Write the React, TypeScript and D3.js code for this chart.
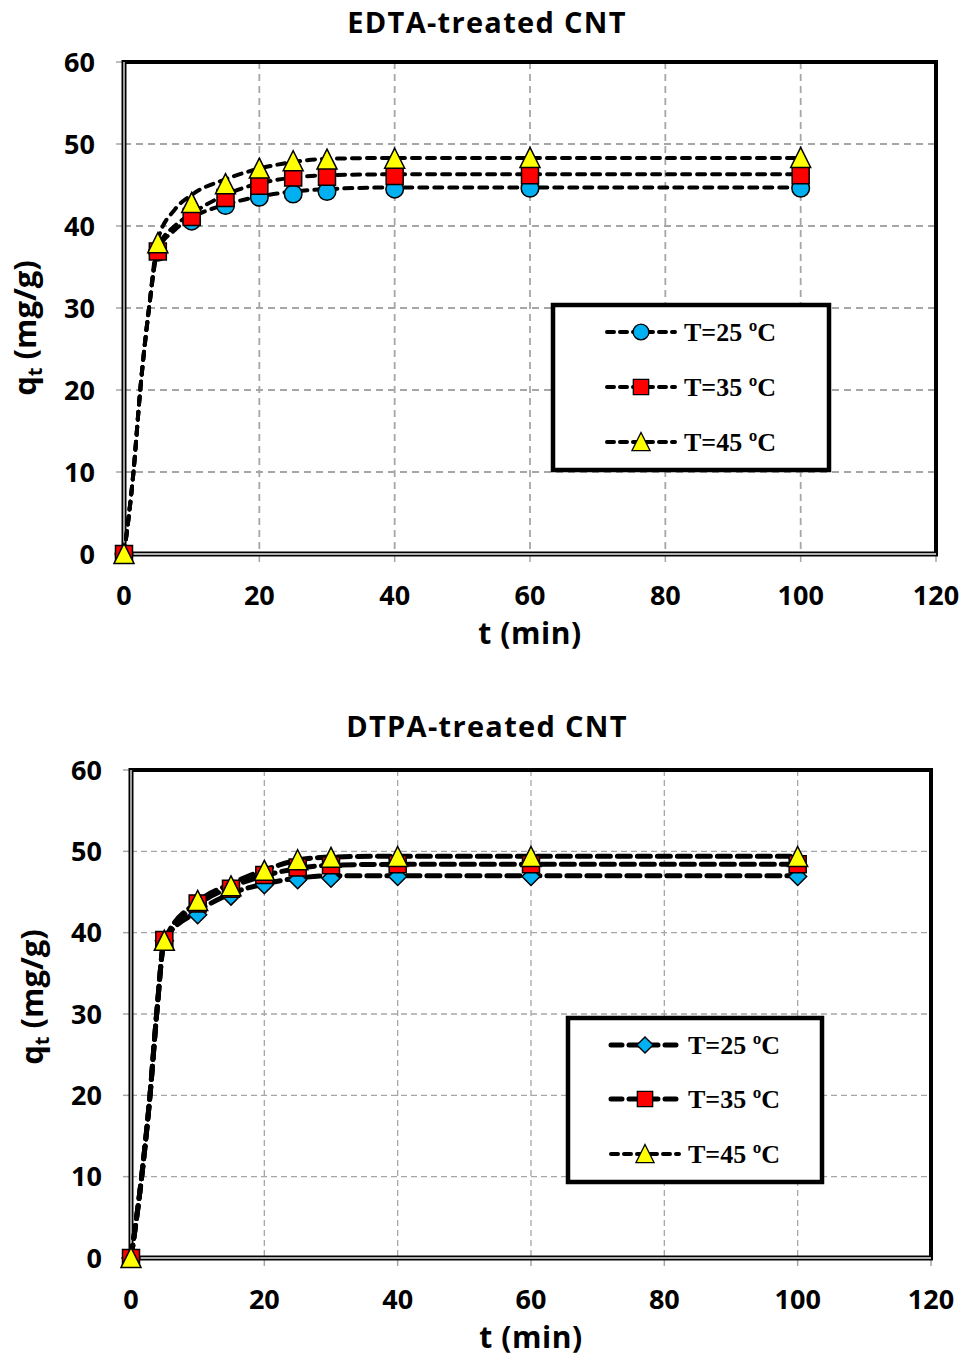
import React from "react";
import * as d3 from "d3";

// axes
const timeTicks = [0, 20, 40, 60, 80, 100, 120];
const qTicks = [0, 10, 20, 30, 40, 50, 60];
const gridTimes = [20, 40, 60, 80, 100];
const gridQ = [10, 20, 30, 40, 50];
const legendLabels = ["T=25 ºC", "T=35 ºC", "T=45 ºC"];

// measured points (t in min, q in mg/g)
const sampleTimes = [0, 5, 10, 15, 20, 25, 30, 40, 60, 100];
const edtaQ25 = [0, 36.8, 40.6, 42.5, 43.5, 43.9, 44.2, 44.5, 44.6, 44.6];
const edtaQ35 = [0, 36.9, 41.1, 43.4, 44.9, 45.9, 46.0, 46.1, 46.2, 46.2];
const edtaQ45 = [0, 37.9, 42.8, 45.1, 47.0, 47.9, 48.1, 48.2, 48.3, 48.3];
const dtpaQ25 = [0, 39.0, 42.2, 44.5, 45.9, 46.5, 46.7, 46.9, 46.9, 46.9];
const dtpaQ35 = [0, 39.1, 43.6, 45.4, 47.1, 48.0, 48.3, 48.4, 48.4, 48.4];
const dtpaQ45 = [0, 39.0, 43.9, 45.7, 47.6, 48.9, 49.2, 49.3, 49.3, 49.3];

// fitted (dashed) curves
const edtaFitTimes = [0, 1.4, 2.4, 3.7, 5, 7.5, 10, 15, 20, 25, 30, 40, 60, 100];
const edtaFit25 = [0, 10, 20, 30, 37.0, 39.5, 41.0, 42.6, 43.6, 44.2, 44.5, 44.7, 44.7, 44.7];
const edtaFit35 = [0, 10, 20, 30, 37.3, 40.0, 41.5, 43.8, 45.2, 45.9, 46.2, 46.3, 46.3, 46.3];
const edtaFit45 = [0, 10, 20, 30, 38.3, 42.0, 43.8, 45.7, 47.0, 47.8, 48.2, 48.3, 48.3, 48.3];
const dtpaFitTimes = [0, 1.6, 2.85, 3.85, 5, 10, 15, 20, 25, 30, 40, 60, 100];
const dtpaFit25 = [0, 10, 20, 30, 39.0, 42.6, 44.8, 46.0, 46.7, 47.0, 47.0, 47.0, 47.0];
const dtpaFit35 = [0, 10, 20, 30, 39.0, 43.4, 45.6, 47.0, 47.9, 48.3, 48.4, 48.4, 48.4];
const dtpaFit45 = [0, 10, 20, 30, 39.0, 43.8, 46.0, 47.7, 48.9, 49.3, 49.4, 49.4, 49.4];

const BLUE = "#00b0f0";
const RED = "#ff0000";
const YELLOW = "#ffff00";
const SANS = "'Open Sans', 'Liberation Sans', sans-serif";
const SERIF = "'Liberation Serif', 'Times New Roman', serif";

type Shape = "circle" | "square" | "triangle" | "diamond";

const markerPath = (shape: Shape) => {
  if (shape === "circle") return d3.symbol(d3.symbolCircle, Math.PI * 8.8 * 8.8)()!;
  if (shape === "square") return "M-8.5,-8.5H8.5V8.5H-8.5Z";
  if (shape === "triangle") return "M0,-10.5L10,9.5L-10,9.5Z";
  return "M0,-9L9,0L0,9L-9,0Z";
};

interface Series {
  q: number[];
  fit: number[];
  shape: Shape;
  fill: string;
}

interface PanelProps {
  title: string;
  left: number;
  right: number;
  top: number;
  bottom: number;
  titleY: number;
  fitTimes: number[];
  series: Series[];
  dash: string;
  lineWidth: number;
  gridDash: string;
  gridWidth: number;
  legend: { x0: number; y0: number; x1: number; y1: number; rows: number[]; mx: number; tx: number };
  legendDash: string[];
  legendWidth: number[];
  ylabX: number;
  ylabY: number;
}

const Panel = (p: PanelProps) => {
  const x = d3.scaleLinear().domain([0, 120]).range([p.left, p.right]);
  const y = d3.scaleLinear().domain([0, 60]).range([p.bottom, p.top]);
  const line = d3
    .line<number>()
    .x((_, i) => x(p.fitTimes[i]))
    .y((d) => y(d))
    .curve(d3.curveMonotoneX);

  const lg = p.legend;
  return (
    <g>
      <text x={487} y={p.titleY} textAnchor="middle" fontFamily={SANS} fontWeight={700} fontSize={29} letterSpacing={1.3}>
        {p.title}
      </text>

      {gridTimes.map((t) => (
        <line key={"gx" + t} x1={x(t)} x2={x(t)} y1={p.top} y2={p.bottom} stroke="#a6a6a6" strokeWidth={p.gridWidth} strokeDasharray={p.gridDash} />
      ))}
      {gridQ.map((q) => (
        <line key={"gy" + q} x1={p.left} x2={p.right} y1={y(q)} y2={y(q)} stroke="#a6a6a6" strokeWidth={p.gridWidth} strokeDasharray={p.gridDash} />
      ))}

      {/* ticks */}
      {qTicks.map((q) => (
        <line key={"ty" + q} x1={p.left - 8} x2={p.left} y1={y(q)} y2={y(q)} stroke="#a6a6a6" strokeWidth={1.5} />
      ))}
      {timeTicks.map((t) => (
        <line key={"tx" + t} x1={x(t)} x2={x(t)} y1={p.bottom} y2={p.bottom + 8} stroke="#a6a6a6" strokeWidth={1.5} />
      ))}

      {/* frame */}
      <line x1={p.left} x2={p.right + 2} y1={p.top} y2={p.top} stroke="#000" strokeWidth={4} />
      <line x1={p.right} x2={p.right} y1={p.top} y2={p.bottom} stroke="#000" strokeWidth={4} />
      <line x1={p.left} x2={p.left} y1={p.top - 2} y2={p.bottom + 2} stroke="#000" strokeWidth={5} />
      <line x1={p.left} x2={p.left} y1={p.top} y2={p.bottom} stroke="#b0b0b0" strokeWidth={1.8} />
      <line x1={p.left - 2} x2={p.right + 2} y1={p.bottom} y2={p.bottom} stroke="#000" strokeWidth={5} />
      <line x1={p.left} x2={p.right} y1={p.bottom} y2={p.bottom} stroke="#b0b0b0" strokeWidth={1.8} />

      {/* tick labels */}
      {qTicks.map((q) => (
        <text key={"ly" + q} x={p.left - 29} y={y(q)} dy="0.36em" textAnchor="end" fontFamily={SANS} fontWeight={700} fontSize={27}>
          {q}
        </text>
      ))}
      {timeTicks.map((t) => (
        <text key={"lx" + t} x={x(t)} y={p.bottom + 51} textAnchor="middle" fontFamily={SANS} fontWeight={700} fontSize={27}>
          {t}
        </text>
      ))}

      {/* axis titles */}
      <text x={(p.left + p.right) / 2} y={p.bottom + 90} textAnchor="middle" fontFamily={SANS} fontWeight={700} fontSize={30} letterSpacing={0.6}>
        t (min)
      </text>
      <text transform={`translate(${p.ylabX},${p.ylabY}) rotate(-90)`} textAnchor="middle" fontFamily={SANS} fontWeight={700} fontSize={31}>
        q<tspan fontSize={20} dy={6}>t</tspan>
        <tspan dy={-6}> (mg/g)</tspan>
      </text>

      {/* fitted curves */}
      {p.series.map((s, i) => (
        <path key={"f" + i} d={line(s.fit)!} fill="none" stroke="#000" strokeWidth={p.lineWidth} strokeDasharray={p.dash} strokeLinecap="round" />
      ))}

      {/* measured points */}
      {p.series.map((s, i) => (
        <g key={"m" + i}>
          {s.q.map((q, j) => (
            <path key={j} d={markerPath(s.shape)} transform={`translate(${x(sampleTimes[j])},${y(q)})`} fill={s.fill} stroke="#000" strokeWidth={1.5} />
          ))}
        </g>
      ))}

      {/* legend */}
      <rect x={lg.x0} y={lg.y0} width={lg.x1 - lg.x0} height={lg.y1 - lg.y0} fill="#fff" stroke="#000" strokeWidth={4.5} />
      {p.series.map((s, i) => (
        <g key={"lg" + i}>
          <line x1={lg.mx - 34} x2={lg.mx + 34} y1={lg.rows[i]} y2={lg.rows[i]} stroke="#000" strokeWidth={p.legendWidth[i]} strokeDasharray={p.legendDash[i]} strokeLinecap="round" />
          <path d={markerPath(s.shape)} transform={`translate(${lg.mx},${lg.rows[i]}) scale(0.9)`} fill={s.fill} stroke="#000" strokeWidth={1.5} />
          <text x={lg.tx} y={lg.rows[i]} dy="0.34em" fontFamily={SERIF} fontWeight={700} fontSize={26}>
            {legendLabels[i]}
          </text>
        </g>
      ))}
    </g>
  );
};

export default function App() {
  return (
    <svg width={967} height={1358} style={{ position: "absolute", left: 0, top: 0, background: "#fff" }}>
      <Panel
        title="EDTA-treated CNT"
        left={124}
        right={936}
        top={62}
        bottom={554}
        titleY={33}
        fitTimes={edtaFitTimes}
        series={[
          { q: edtaQ25, fit: edtaFit25, shape: "circle", fill: BLUE },
          { q: edtaQ35, fit: edtaFit35, shape: "square", fill: RED },
          { q: edtaQ45, fit: edtaFit45, shape: "triangle", fill: YELLOW },
        ]}
        dash="8,7"
        lineWidth={4}
        gridDash="7,5"
        gridWidth={1.8}
        legend={{ x0: 553, y0: 305, x1: 829, y1: 470, rows: [332, 387, 442], mx: 641, tx: 684 }}
        legendDash={["7,6", "7,6", "7,6"]}
        legendWidth={[4, 4, 4]}
        ylabX={36}
        ylabY={328}
      />
      <Panel
        title="DTPA-treated CNT"
        left={131}
        right={931}
        top={770}
        bottom={1258}
        titleY={737}
        fitTimes={dtpaFitTimes}
        series={[
          { q: dtpaQ25, fit: dtpaFit25, shape: "diamond", fill: BLUE },
          { q: dtpaQ35, fit: dtpaFit35, shape: "square", fill: RED },
          { q: dtpaQ45, fit: dtpaFit45, shape: "triangle", fill: YELLOW },
        ]}
        dash="13,7"
        lineWidth={5}
        gridDash="6,4"
        gridWidth={1.3}
        legend={{ x0: 568, y0: 1018, x1: 822, y1: 1182, rows: [1045, 1099, 1154], mx: 645, tx: 688 }}
        legendDash={["11,7", "11,7", "7,6"]}
        legendWidth={[5, 5, 4]}
        ylabX={43}
        ylabY={997}
      />
    </svg>
  );
}
